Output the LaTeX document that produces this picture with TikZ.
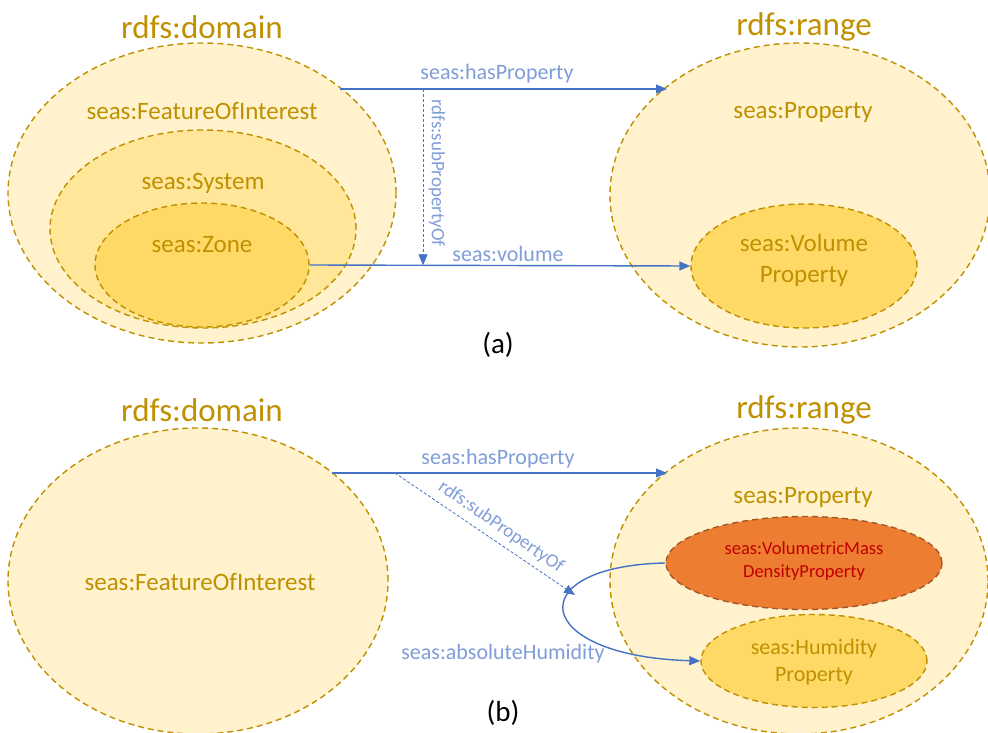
\documentclass[tikz,border=0pt]{standalone}
\usepackage{fontspec}
\setmainfont{Carlito}
\usetikzlibrary{shapes.geometric,arrows.meta}
\definecolor{gold}{HTML}{BF9000}
\definecolor{fillA}{HTML}{FFF2CC}
\definecolor{fillB}{HTML}{FFE699}
\definecolor{fillC}{HTML}{FFD966}
\definecolor{arrowblue}{HTML}{4472C4}
\definecolor{lblue}{HTML}{7F9DD8}
\definecolor{orangefill}{HTML}{ED7D31}
\definecolor{orangeedge}{HTML}{A0592A}
\definecolor{redtext}{HTML}{C00000}
\tikzset{
  setbox/.style={ellipse, draw=gold, line width=1.4pt, dash pattern=on 6pt off 4pt, inner sep=0pt},
  title/.style={text=gold, font=\fontsize{33}{35}\selectfont},
  cls/.style={text=gold, font=\fontsize{25}{31}\selectfont, align=center},
  rel/.style={draw=arrowblue, line width=1.4pt, -{Triangle[length=11pt,width=9pt]}},
  subrel/.style={draw=arrowblue, line width=0.8pt, dash pattern=on 3pt off 2pt, -{Triangle[length=11pt,width=9pt]}},
  rlab/.style={text=lblue, font=\fontsize{22}{24}\selectfont},
  sublab/.style={text=lblue, font=\fontsize{19}{21}\selectfont, inner sep=1pt},
  captxt/.style={font=\fontsize{29}{31}\selectfont}
}
\begin{document}
\begin{tikzpicture}[x=1pt,y=-1pt]
\useasboundingbox (0,0) rectangle (988,733);
% ---------- (a) ----------
\node[title] (tda) at (202,27) {rdfs:domain};
\node[title] (tra) at (804,27) {rdfs:range};
\node[setbox, fill=fillA, minimum width=388pt, minimum height=300pt] (foiA) at (202,193) {};
\node[setbox, fill=fillB, minimum width=306pt, minimum height=198pt] (sys) at (203,229) {};
\node[setbox, fill=fillC, minimum width=214pt, minimum height=124pt] (zone) at (202,265) {};
\node[setbox, fill=fillA, minimum width=380pt, minimum height=304pt] (rngA) at (800,195) {};
\node[setbox, fill=fillC, minimum width=226pt, minimum height=124pt] (vol) at (804,266) {};
\node[cls] (foiAt) at (202,111) {seas:FeatureOfInterest};
\node[cls] (syst) at (203,183) {seas:System};
\node[cls] (zonet) at (202,245) {seas:Zone};
\node[cls] (propAt) at (803,112) {seas:Property};
\node[cls] (volt) at (804,260) {seas:Volume\\Property};
\coordinate (hpAs) at (340,89);
\coordinate (hpAe) at (667,89);
\draw[rel] (hpAs) -- (hpAe) coordinate[pos=0.254] (spA);
\node[rlab] (hpAl) at (497,74) {seas:hasProperty};
\draw[rel] (zone.east) -- (vol.west) coordinate[pos=0.297] (volmid);
\node[rlab] (volAl) at (508,254) {seas:volume};
\draw[subrel] (spA) -- (spA |- volmid);
\node[sublab, rotate=-90] (spAl) at (437,173) {rdfs:subPropertyOf};
\node[captxt] (capa) at (498,345) {(a)};
% ---------- (b) ----------
\node[title] (tdb) at (202,410) {rdfs:domain};
\node[title] (trb) at (804,410) {rdfs:range};
\node[setbox, fill=fillA, minimum width=380pt, minimum height=306pt] (foiB) at (198,581) {};
\node[setbox, fill=fillA, minimum width=378pt, minimum height=306pt] (rngB) at (799,581) {};
\node[setbox, draw=orangeedge, fill=orangefill, minimum width=276pt, minimum height=93pt] (vmd) at (804,563) {};
\node[setbox, fill=fillC, minimum width=226pt, minimum height=93pt] (hum) at (814,661) {};
\node[cls] (foiBt) at (200,582) {seas:FeatureOfInterest};
\node[cls] (propBt) at (803,497) {seas:Property};
\node[text=redtext, font=\fontsize{18.5}{23}\selectfont, align=center] (vmdt) at (804,561) {seas:VolumetricMass\\DensityProperty};
\node[text=gold, font=\fontsize{22}{27}\selectfont, align=center] (humt) at (814,662) {seas:Humidity\\Property};
\coordinate (hpBs) at (332,473);
\coordinate (hpBe) at (667,473);
\draw[rel] (hpBs) -- (hpBe) coordinate[pos=0.188] (spB);
\node[rlab] (hpBl) at (498,459) {seas:hasProperty};
\coordinate (spBe) at (575,595);
\draw[subrel] (spB) -- (spBe);
\node[sublab, rotate=-34.5] (spBl) at (501,527) {rdfs:subPropertyOf};
\draw[rel] (vmd.west) .. controls (520,566) and (530,656) .. (hum.west);
\node[rlab] (ahl) at (503,654) {seas:absoluteHumidity};
\node[captxt] (capb) at (503,713) {(b)};
\end{tikzpicture}
\end{document}
